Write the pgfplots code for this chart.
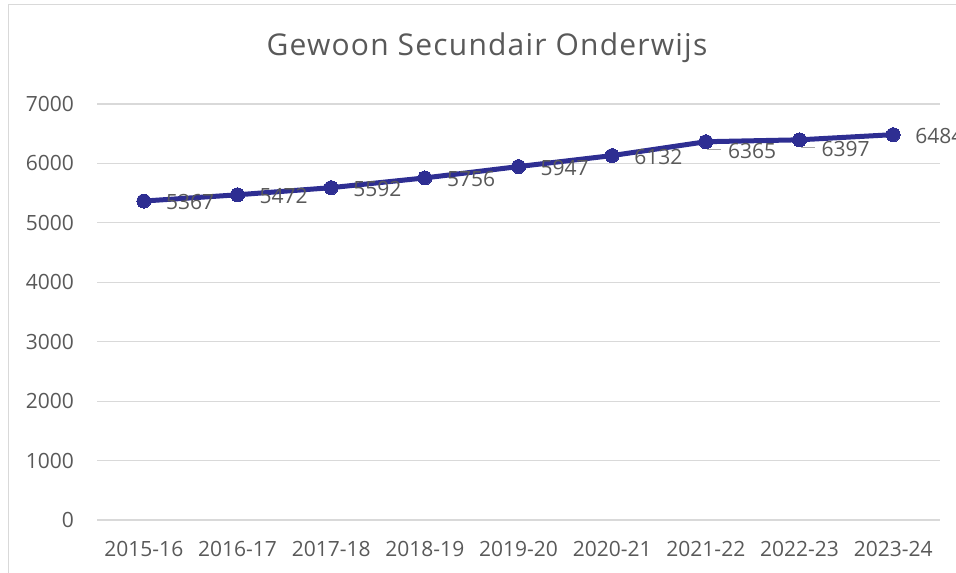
\documentclass[border=0pt]{standalone}
\usepackage{pgfplots}
\pgfplotsset{compat=1.18}
\usepackage{fontspec}
\setmainfont{Open Sans}
\newfontfamily\titlefont[LetterSpace=4]{Open Sans}
\definecolor{txtc}{HTML}{595959}
\definecolor{gridc}{HTML}{D9D9D9}
\definecolor{lineblue}{RGB}{46,46,146}
\begin{document}
\begin{tikzpicture}[x=1bp,y=1bp]
\useasboundingbox (0,0) rectangle (956,573);
\draw[gridc, line width=1bp] (8,-5) -- (8,568) -- (970,568);
\node[txtc, font=\titlefont\fontsize{30bp}{36bp}\selectfont, anchor=center] at (487,525.5) {Gewoon Secundair Onderwijs};
\begin{axis}[
  at={(97bp,53bp)}, anchor=south west,
  scale only axis, width=843bp, height=416bp,
  xmin=-0.5, xmax=8.5, ymin=0, ymax=7000,
  xtick={0,...,8},
  xticklabels={2015-16,2016-17,2017-18,2018-19,2019-20,2020-21,2021-22,2022-23,2023-24},
  ytick={0,1000,...,7000},
  axis line style={draw=none},
  major tick length=0pt,
  xmajorgrids=false,
  ymajorgrids=true,
  major grid style={draw=gridc, line width=1.2bp},
  tick label style={text=txtc, font=\fontsize{21bp}{25bp}\selectfont, inner sep=0pt},
  /pgf/number format/assume math mode=true,
  /pgf/number format/1000 sep={},
  yticklabel style={anchor=east},
  yticklabel shift=23bp,
  xticklabel style={anchor=north},
  xticklabel shift=21bp,
  clip=false,
]
\addplot[lineblue, line width=5bp, mark=*, mark size=7bp, mark options={fill=lineblue, draw=lineblue, line width=0pt}]
  coordinates {(0,5367) (1,5472) (2,5592) (3,5756) (4,5947) (5,6132) (6,6365) (7,6397) (8,6484)};
\addplot[draw=none, nodes near coords, point meta=explicit symbolic,
  nodes near coords style={text=txtc, font=\fontsize{21bp}{25bp}\selectfont, anchor=west, inner sep=0pt, xshift=22bp, yshift=-1bp}]
  coordinates {(0,5367) [5367] (1,5472) [5472] (2,5592) [5592] (3,5756) [5756] (4,5947) [5947] (5,6132) [6132] (8,6484) [6484]};
\addplot[draw=none, nodes near coords, point meta=explicit symbolic,
  nodes near coords style={text=txtc, font=\fontsize{21bp}{25bp}\selectfont, anchor=west, inner sep=0pt, xshift=22bp, yshift=-9bp}]
  coordinates {(6,6365) [6365] (7,6397) [6397]};
\draw[gray!70, line width=1bp] ([xshift=2bp,yshift=-3bp]axis cs:6,6365) -- ([xshift=2bp,yshift=-8bp]axis cs:6,6365) -- ([xshift=15bp,yshift=-8bp]axis cs:6,6365);
\draw[gray!70, line width=1bp] ([xshift=2bp,yshift=-3bp]axis cs:7,6397) -- ([xshift=2bp,yshift=-8bp]axis cs:7,6397) -- ([xshift=15bp,yshift=-8bp]axis cs:7,6397);
\end{axis}
\end{tikzpicture}
\end{document}
